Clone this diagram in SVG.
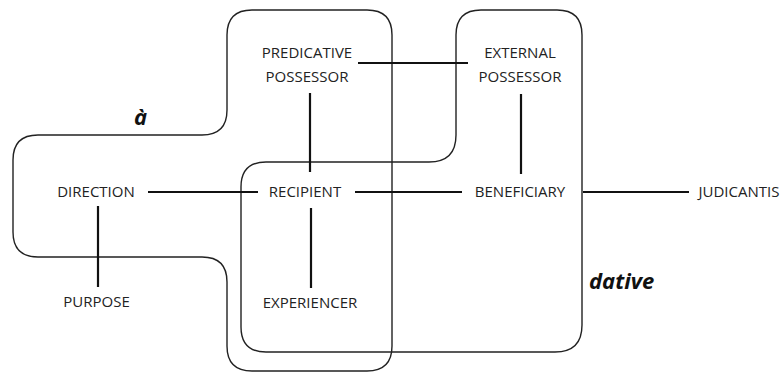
<svg xmlns="http://www.w3.org/2000/svg" width="784" height="373" viewBox="0 0 784 373">
<style>
.bg{fill:#ffffff}
.region{fill:none;stroke:#222;stroke-width:1.4}
.lbl{font-family:"Open Sans","DejaVu Sans",sans-serif;font-size:15px;fill:#222;text-anchor:middle}
.reg-lbl{font-family:"Open Sans","DejaVu Sans",sans-serif;font-size:22px;font-weight:bold;font-style:italic;fill:#111}
.conn line{stroke:#111;stroke-width:2.2;stroke-linecap:butt}
</style>
<rect class="bg" x="0" y="0" width="784" height="373"/>
<g id="regions">
  <g id="region-a">
    <path class="region" d="M 252 10 H 367 Q 392 10 392 35 V 346 Q 392 371 367 371 H 252 Q 227 371 227 346 V 282 Q 227 257 202 257 H 38 Q 13 257 13 232 V 160 Q 13 135 38 135 H 202 Q 227 135 227 110 V 35 Q 227 10 252 10 Z"/>
    <text class="reg-lbl" x="134" y="125">à</text>
  </g>
  <g id="region-dative">
    <path class="region" d="M 481 10 H 557 Q 582 10 582 35 V 325 Q 582 352 555 352 H 266 Q 241 352 241 327 V 187 Q 241 162 266 162 H 429 Q 456 162 456 135 V 35 Q 456 10 481 10 Z"/>
    <text class="reg-lbl" x="589" y="289">dative</text>
  </g>
</g>
<g id="connectors" class="conn">
  <line x1="358" y1="63" x2="468" y2="63"/>
  <line x1="310" y1="93" x2="310" y2="172"/>
  <line x1="521" y1="94" x2="521" y2="174"/>
  <line x1="148" y1="192" x2="258" y2="192"/>
  <line x1="355" y1="192" x2="462" y2="192"/>
  <line x1="583" y1="192" x2="689" y2="192"/>
  <line x1="98" y1="206" x2="98" y2="287"/>
  <line x1="311" y1="208" x2="311" y2="288"/>
</g>
<g id="predicative-possessor"><text class="lbl" x="307" y="58">PREDICATIVE</text><text class="lbl" x="307" y="82">POSSESSOR</text></g>
<g id="external-possessor"><text class="lbl" x="520" y="58">EXTERNAL</text><text class="lbl" x="520" y="82">POSSESSOR</text></g>
<g id="direction"><text class="lbl" x="96" y="197">DIRECTION</text></g>
<g id="recipient"><text class="lbl" x="305" y="197">RECIPIENT</text></g>
<g id="beneficiary"><text class="lbl" x="520" y="197">BENEFICIARY</text></g>
<g id="judicantis"><text class="lbl" x="739" y="197">JUDICANTIS</text></g>
<g id="purpose"><text class="lbl" x="96.5" y="307">PURPOSE</text></g>
<g id="experiencer"><text class="lbl" x="310" y="308">EXPERIENCER</text></g>
</svg>
